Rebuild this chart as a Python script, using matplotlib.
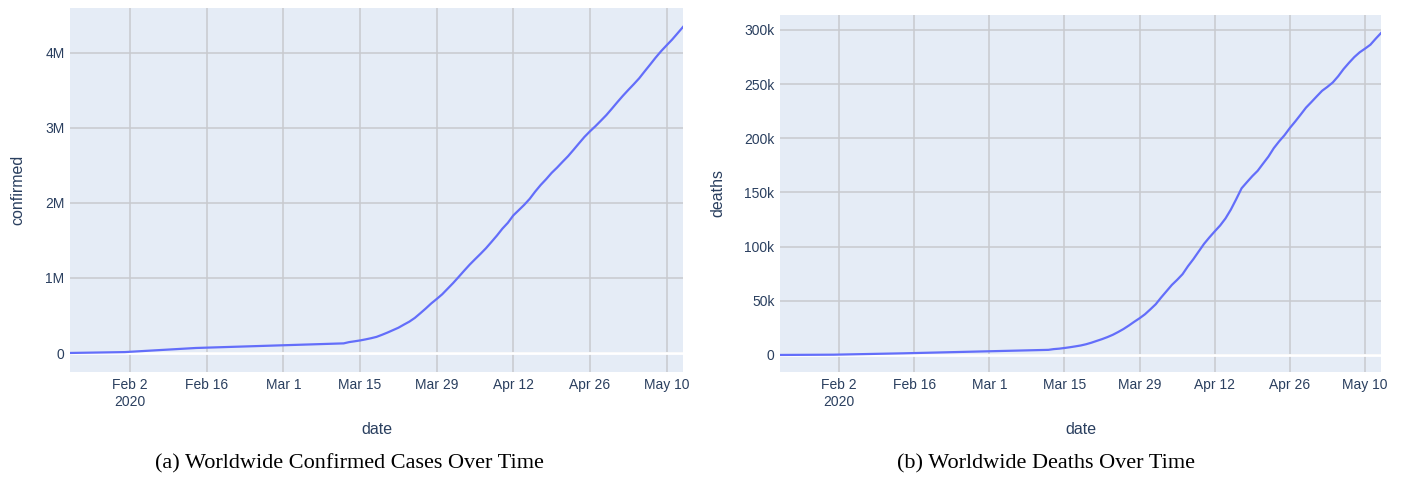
import pandas as pd
import matplotlib.pyplot as plt
from matplotlib import rcParams

rcParams['font.family'] = ['Liberation Sans', 'DejaVu Sans']

# worldwide cumulative totals; sparse early reports, then daily from Mar 12
early_dates = ['2020-01-22', '2020-02-01', '2020-02-14']
early_confirmed = [555, 12038, 66885]
early_deaths = [17, 259, 1526]

daily_dates = pd.date_range('2020-03-12', '2020-05-13', freq='D')
daily_confirmed = [
    128352, 145205, 156101, 167454, 181574, 197102, 214821, 242570, 272208, 304507,
    336953, 378231, 418041, 467653, 529591, 593291, 660693, 720140, 782389, 857487,
    932605, 1013466, 1095917, 1176060, 1249754, 1321481, 1396476, 1480202, 1565278, 1657526,
    1735650, 1834721, 1904838, 1976191, 2056054, 2152437, 2240190, 2317758, 2401378, 2472259,
    2549123, 2624068, 2708885, 2795735, 2881140, 2955033, 3023722, 3097229, 3172287, 3256846,
    3343777, 3427584, 3506729, 3583055, 3662691, 3755341, 3845718, 3938064, 4024009, 4101699,
    4177502, 4261747, 4347018,
]
daily_deaths = [
    4720, 5404, 5819, 6440, 7126, 7905, 8733, 9867, 11299, 12973,
    14623, 16497, 18615, 21181, 23970, 27198, 30652, 33925, 37582, 42107,
    46809, 52983, 58787, 64606, 69374, 74565, 81865, 88338, 95455, 102525,
    108503, 114091, 119482, 125984, 134177, 143800, 153822, 159510, 165044, 169986,
    176583, 183066, 190858, 197159, 202846, 209500, 215500, 221800, 228252, 233388,
    238650, 243808, 247470, 251537, 257239, 263855, 269567, 274898, 279311, 282709,
    286330, 291942, 297220,
]

x_ticks = ['2020-02-02', '2020-02-16', '2020-03-01', '2020-03-15',
           '2020-03-29', '2020-04-12', '2020-04-26', '2020-05-10']
x_tick_labels = ['Feb 2\n2020', 'Feb 16', 'Mar 1', 'Mar 15',
                 'Mar 29', 'Apr 12', 'Apr 26', 'May 10']
conf_ticks = [0, 1e6, 2e6, 3e6, 4e6]
conf_tick_labels = ['0', '1M', '2M', '3M', '4M']
death_ticks = [0, 50e3, 100e3, 150e3, 200e3, 250e3, 300e3]
death_tick_labels = ['0', '50k', '100k', '150k', '200k', '250k', '300k']

df = pd.DataFrame({
    'date': pd.to_datetime(early_dates + list(daily_dates.strftime('%Y-%m-%d'))),
    'confirmed': early_confirmed + daily_confirmed,
    'deaths': early_deaths + daily_deaths,
})

bg = '#E5ECF6'
grid = '#c8cace'
line_color = '#636EFA'
text_color = '#2a3f5f'

fig = plt.figure(figsize=(14.03, 4.78), dpi=100, facecolor='white')
ax1 = fig.add_axes([0.0499, 0.2218, 0.4369, 0.7615])
ax2 = fig.add_axes([0.5560, 0.2218, 0.4284, 0.7469])


def style_axis(ax, col, yticks, ylabels, ylim, ypad):
    ax.set_facecolor(bg)
    for s in ax.spines.values():
        s.set_visible(False)
    ax.set_axisbelow(True)
    ax.grid(True, color=grid, linewidth=1.1)
    ax.axhline(0, color='white', linewidth=2.0, zorder=1)
    ax.plot(df['date'], df[col], color=line_color, linewidth=1.6, zorder=3)
    ax.set_xlim(df['date'].min(), df['date'].max())
    ax.set_ylim(*ylim)
    ax.set_xticks(pd.to_datetime(x_ticks))
    ax.set_xticklabels(x_tick_labels, linespacing=1.3)
    ax.set_yticks(yticks)
    ax.set_yticklabels(ylabels)
    ax.tick_params(length=0, labelsize=10, labelcolor=text_color, pad=4)
    ax.set_xlabel('date', fontsize=11.5, color=text_color, labelpad=9.5)
    ax.set_ylabel(col, fontsize=11.5, color=text_color, labelpad=ypad)


style_axis(ax1, 'confirmed', conf_ticks, conf_tick_labels, (-0.253e6, 4.6e6), 14.2)
style_axis(ax2, 'deaths', death_ticks, death_tick_labels, (-15.7e3, 313.8e3), 13.6)

fig.text(349 / 1403, 1 - 464 / 478, '(a) Worldwide Confirmed Cases Over Time',
         ha='center', va='center', fontsize=16, family='Liberation Serif', color='black')
fig.text(1046 / 1403, 1 - 464 / 478, '(b) Worldwide Deaths Over Time',
         ha='center', va='center', fontsize=16, family='Liberation Serif', color='black')

fig.savefig('out.png', dpi=100, facecolor='white')
